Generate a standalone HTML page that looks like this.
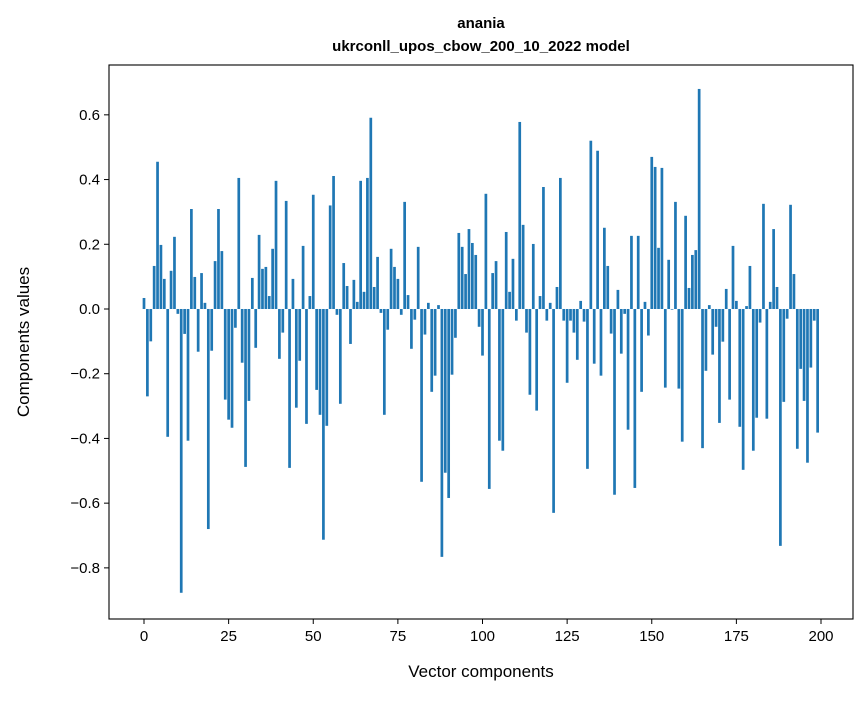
<!DOCTYPE html>
<html><head><meta charset="utf-8"><style>
body{margin:0;background:#fff;width:867px;height:696px;overflow:hidden;font-family:"Liberation Sans","DejaVu Sans",sans-serif}
</style></head><body>
<svg width="867" height="696" viewBox="0 0 867 696" id="svg">
<rect width="867" height="696" fill="#fff"/>
<text x="481" y="28" text-anchor="middle" font-weight="bold" font-size="15">anania</text>
<text x="481" y="51" text-anchor="middle" font-weight="bold" font-size="15">ukrconll_upos_cbow_200_10_2022 model</text>
<g id="bars"></g>
<g id="axes"></g>
<text x="481" y="677" text-anchor="middle" font-size="17">Vector components</text>
<text x="29" y="342" text-anchor="middle" font-size="17" transform="rotate(-90 29 342)">Components values</text>
</svg>
<script>
const values = [0.034,-0.27,-0.10,0.133,0.455,0.198,0.093,-0.395,0.118,0.223,
-0.015,-0.877,-0.077,-0.407,0.309,0.099,-0.132,0.111,0.019,-0.68,
-0.129,0.148,0.309,0.179,-0.28,-0.342,-0.367,-0.058,0.405,-0.166,
-0.488,-0.284,0.096,-0.12,0.229,0.124,0.13,0.04,0.186,0.396,
-0.154,-0.073,0.334,-0.491,0.093,-0.305,-0.16,0.195,-0.355,0.04,
0.353,-0.25,-0.327,-0.713,-0.361,0.32,0.411,-0.018,-0.293,0.142,
0.071,-0.108,0.09,0.022,0.396,0.053,0.405,0.591,0.068,0.161,
-0.012,-0.327,-0.064,0.186,0.13,0.093,-0.018,0.331,0.043,-0.123,
-0.033,0.192,-0.534,-0.079,0.019,-0.256,-0.206,0.012,-0.766,-0.506,
-0.584,-0.203,-0.089,0.235,0.192,0.108,0.247,0.204,0.167,-0.055,
-0.144,0.356,-0.556,0.111,0.148,-0.407,-0.438,0.238,0.053,0.155,
-0.036,0.578,0.26,-0.073,-0.265,0.201,-0.314,0.04,0.377,-0.036,
0.019,-0.63,0.068,0.405,-0.036,-0.228,-0.036,-0.073,-0.157,0.025,
-0.039,-0.494,0.52,-0.169,0.489,-0.206,0.251,0.133,-0.076,-0.574,
0.059,-0.138,-0.015,-0.373,0.226,-0.553,0.226,-0.256,0.022,-0.082,
0.47,0.439,0.189,0.436,-0.243,0.152,-0.002,0.331,-0.246,-0.41,
0.288,0.065,0.167,0.182,0.68,-0.43,-0.191,0.012,-0.141,-0.055,
-0.352,-0.101,0.062,-0.28,0.195,0.025,-0.364,-0.497,0.009,0.133,
-0.438,-0.336,-0.042,0.325,-0.339,0.022,0.247,0.068,-0.732,-0.287,
-0.03,0.322,0.108,-0.432,-0.185,-0.284,-0.475,-0.181,-0.036,-0.382];
const xTicks = [0,25,50,75,100,125,150,175,200];
const yTicks = [-0.8,-0.6,-0.4,-0.2,0.0,0.2,0.4,0.6];
const yTickLabels = ["\u22120.8","\u22120.6","\u22120.4","\u22120.2","0.0","0.2","0.4","0.6"];

const L=109,R=853,T=65,B=619;
const xMin=-10.34,xMax=209.45,yMin=-0.958,yMax=0.754;
const xs=v=>L+(v-xMin)/(xMax-xMin)*(R-L);
const ys=v=>B-(v-yMin)/(yMax-yMin)*(B-T);
const NS="http://www.w3.org/2000/svg";
const bars=document.getElementById('bars');
values.forEach((v,i)=>{
  const r=document.createElementNS(NS,'rect');
  const x0=xs(i-0.4),x1=xs(i+0.4);
  const y0=ys(Math.max(v,0)),y1=ys(Math.min(v,0));
  r.setAttribute('x',x0);r.setAttribute('width',x1-x0);
  r.setAttribute('y',y0);r.setAttribute('height',Math.max(y1-y0,0.3));
  r.setAttribute('fill','#1f77b4');
  
  
  bars.appendChild(r);
});
const ax=document.getElementById('axes');
const frame=document.createElementNS(NS,'rect');
frame.setAttribute('x',L);frame.setAttribute('y',T);frame.setAttribute('width',R-L);frame.setAttribute('height',B-T);
frame.setAttribute('fill','none');frame.setAttribute('stroke','#000');frame.setAttribute('stroke-width','1.1');


ax.appendChild(frame);
xTicks.forEach(t=>{
  const x=xs(t);
  const l=document.createElementNS(NS,'line');
  l.setAttribute('x1',x);l.setAttribute('x2',x);l.setAttribute('y1',B);l.setAttribute('y2',B+5);l.setAttribute('stroke','#000');
  
  
  ax.appendChild(l);
  const tx=document.createElementNS(NS,'text');
  tx.setAttribute('x',x);tx.setAttribute('y',B+22);tx.setAttribute('text-anchor','middle');tx.setAttribute('font-size','15');
  tx.textContent=t;
  
  
  ax.appendChild(tx);
});
yTicks.forEach((t,i)=>{
  const y=ys(t);
  const l=document.createElementNS(NS,'line');
  l.setAttribute('x1',L-5);l.setAttribute('x2',L);l.setAttribute('y1',y);l.setAttribute('y2',y);l.setAttribute('stroke','#000');
  
  
  ax.appendChild(l);
  const tx=document.createElementNS(NS,'text');
  tx.setAttribute('x',L-9);tx.setAttribute('y',y+5);tx.setAttribute('text-anchor','end');tx.setAttribute('font-size','15');
  tx.textContent=yTickLabels[i];
  
  
  ax.appendChild(tx);
});
</script>
</body></html>
